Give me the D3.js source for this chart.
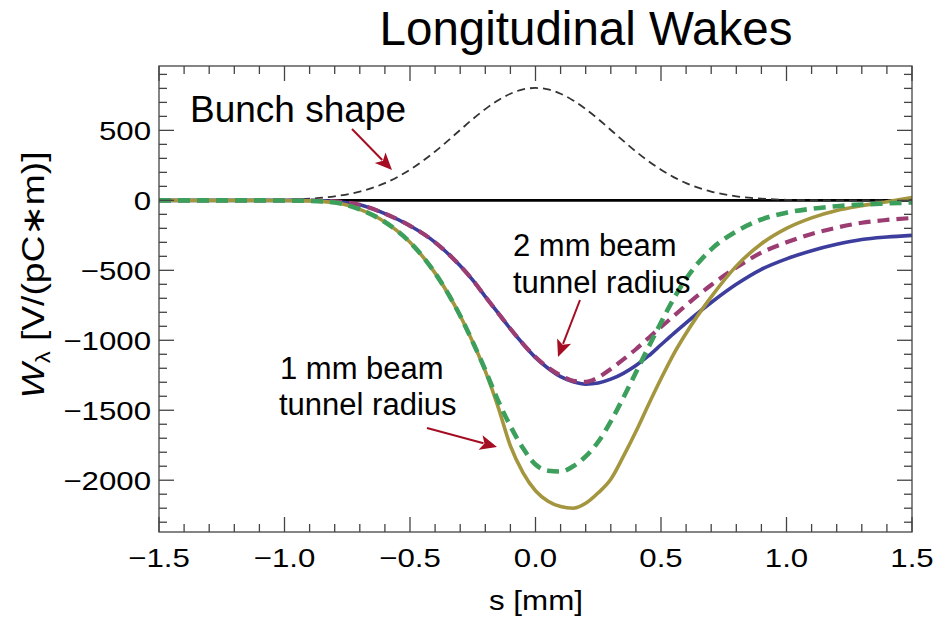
<!DOCTYPE html>
<html>
<head>
<meta charset="utf-8">
<script src="https://cdn.jsdelivr.net/npm/d3@7/dist/d3.min.js"></script>
<style>
  body { margin: 0; background: #fff; }
  svg { display: block; font-family: "Liberation Sans", Arial, Helvetica, sans-serif; }
</style>
</head>
<body>
<svg id="chart" width="941" height="619"></svg>
<script>
// s positions [mm] shared by every curve
const sGrid = [-1.5, -1.2, -1.0, -0.9, -0.8, -0.7, -0.6, -0.5, -0.4, -0.3, -0.25, -0.2, -0.15, -0.1, -0.05,
  0, 0.05, 0.1, 0.15, 0.2, 0.25, 0.3, 0.35, 0.4, 0.45, 0.5, 0.55, 0.6, 0.7, 0.8, 0.9, 1.0, 1.1, 1.2, 1.3, 1.4, 1.5];

// bunch shape (arbitrary scale)
const bunchShape = [0, 0, 4, 12, 29, 63, 123, 219, 349, 503, 581, 652, 714, 762, 793,
  803, 793, 762, 714, 652, 581, 503, 425, 349, 280, 219, 166, 123, 63, 29, 12, 4, 1, 0, 0, 0, 0];

// 2 mm beam tunnel radius
const wake2mmSolid = [0, 0, 0, -1, -8, -32, -95, -182, -300, -468, -570, -688, -803, -918, -1025,
  -1124, -1200, -1260, -1296, -1313, -1305, -1278, -1236, -1180, -1112, -1032, -952, -875, -730, -600, -493, -418, -360, -314, -280, -262, -250];
const wake2mmDashed = [0, 0, 0, -1, -8, -32, -95, -182, -300, -468, -570, -688, -803, -918, -1025,
  -1120, -1195, -1250, -1290, -1297, -1265, -1205, -1137, -1064, -984, -905, -828, -750, -605, -480, -374, -300, -240, -195, -160, -140, -126];

// 1 mm beam tunnel radius
const wake1mmSolid = [0, 0, -1, -4, -16, -65, -155, -300, -520, -825, -1012, -1220, -1470, -1755, -1945,
  -2075, -2150, -2188, -2200, -2165, -2090, -1993, -1830, -1652, -1460, -1275, -1100, -950, -690, -470, -310, -200, -125, -72, -38, -10, 20];
const wake1mmDashed = [0, 0, -1, -4, -16, -65, -155, -300, -520, -825, -1012, -1212, -1428, -1613, -1770,
  -1888, -1932, -1938, -1900, -1830, -1725, -1580, -1410, -1230, -1050, -873, -705, -560, -350, -222, -137, -88, -60, -42, -30, -22, -15];

const xTickValues = [-1.5, -1.0, -0.5, 0.0, 0.5, 1.0, 1.5];
const yTickValues = [500, 0, -500, -1000, -1500, -2000];

const svg = d3.select("#chart");
const plotLeft = 159, plotRight = 912, plotTop = 66, plotBottom = 532;

const x = d3.scaleLinear().domain([-1.5, 1.5]).range([plotLeft, plotRight]);
const y = d3.scaleLinear().domain([-2370, 960]).range([plotBottom, plotTop]);

const fmtMinus = (s) => s.replace("-", "\u2212");

// title
svg.append("text")
  .attr("x", 586).attr("y", 45)
  .attr("text-anchor", "middle")
  .attr("font-size", 47.5)
  .text("Longitudinal Wakes");

// clip for curves
svg.append("clipPath").attr("id", "plotClip")
  .append("rect").attr("x", plotLeft).attr("y", plotTop)
  .attr("width", plotRight - plotLeft).attr("height", plotBottom - plotTop);

const plot = svg.append("g").attr("clip-path", "url(#plotClip)");

const line = (vals) => d3.line()
  .x((d, i) => x(sGrid[i]))
  .y((d) => y(d))
  .curve(d3.curveMonotoneX)(vals);

// zero line
plot.append("line")
  .attr("x1", x(-1.5)).attr("x2", x(1.5))
  .attr("y1", y(0)).attr("y2", y(0))
  .attr("stroke", "#000").attr("stroke-width", 2.6);

// bunch shape
plot.append("path")
  .attr("d", line(bunchShape))
  .attr("fill", "none").attr("stroke", "#333")
  .attr("stroke-width", 1.8).attr("stroke-dasharray", "8,5");

const series = [
  { vals: wake2mmSolid, color: "#3d3d9e", width: 3.6, dash: null },
  { vals: wake2mmDashed, color: "#9b3d72", width: 4.2, dash: "12,7" },
  { vals: wake1mmSolid, color: "#a3963f", width: 3.6, dash: null },
  { vals: wake1mmDashed, color: "#3d9f5c", width: 4.6, dash: "12,7" },
];

series.forEach((sr) => {
  plot.append("path")
    .attr("d", line(sr.vals))
    .attr("fill", "none")
    .attr("stroke", sr.color)
    .attr("stroke-width", sr.width)
    .attr("stroke-dasharray", sr.dash);
});

// frame with ticks on all four sides
const frame = svg.append("g").attr("stroke", "#444").attr("stroke-width", 1.3);
frame.append("rect")
  .attr("x", plotLeft).attr("y", plotTop)
  .attr("width", plotRight - plotLeft).attr("height", plotBottom - plotTop)
  .attr("fill", "none");

const xTicksAll = d3.range(-15, 16).map((k) => k / 10);
xTicksAll.forEach((v) => {
  const major = Math.abs(v * 2 - Math.round(v * 2)) < 1e-6;
  const len = major ? 15 : 8;
  const px = x(v);
  frame.append("line").attr("x1", px).attr("x2", px).attr("y1", plotBottom).attr("y2", plotBottom - len);
  frame.append("line").attr("x1", px).attr("x2", px).attr("y1", plotTop).attr("y2", plotTop + len);
});

const yTicksAll = d3.range(-23, 10).map((k) => k * 100);
yTicksAll.forEach((v) => {
  const major = v % 500 === 0;
  const len = major ? 15 : 8;
  const py = y(v);
  frame.append("line").attr("x1", plotLeft).attr("x2", plotLeft + len).attr("y1", py).attr("y2", py);
  frame.append("line").attr("x1", plotRight).attr("x2", plotRight - len).attr("y1", py).attr("y2", py);
});

// tick labels (plot text is horizontally stretched in the source)
const stretch = 1.2;
svg.append("g").selectAll("text").data(xTickValues).join("text")
  .attr("transform", (d) => `translate(${x(d)},567) scale(${stretch},1)`)
  .attr("text-anchor", "middle")
  .attr("font-size", 26)
  .text((d) => fmtMinus(d.toFixed(1)));

svg.append("g").selectAll("text").data(yTickValues).join("text")
  .attr("transform", (d) => `translate(151,${y(d)}) scale(${stretch},1)`)
  .attr("dy", "0.36em")
  .attr("text-anchor", "end")
  .attr("font-size", 26)
  .text((d) => fmtMinus(String(d)));

// axis labels
svg.append("text")
  .attr("transform", "translate(536,610) scale(1.12,1)")
  .attr("text-anchor", "middle")
  .attr("font-size", 28)
  .text("s [mm]");

const yl = svg.append("text")
  .attr("transform", "translate(44,275) rotate(-90) scale(1.2,1)")
  .attr("text-anchor", "middle")
  .attr("font-size", 31);
yl.append("tspan").attr("font-style", "italic").text("W");
yl.append("tspan").attr("font-size", 20).attr("dy", 6).text("\u03bb");
yl.append("tspan").attr("dy", -6).text(" [V/(pC\u2217m)]");

// annotations
const textG = svg.append("g").attr("fill", "#000");
textG.append("text").attr("x", 190).attr("y", 122).attr("font-size", 37).text("Bunch shape");
textG.append("text").attr("x", 513).attr("y", 256).attr("font-size", 31).text("2 mm beam");
textG.append("text").attr("x", 513).attr("y", 293).attr("font-size", 31).text("tunnel radius");
textG.append("text").attr("x", 280).attr("y", 379).attr("font-size", 31).text("1 mm beam");
textG.append("text").attr("x", 279).attr("y", 415).attr("font-size", 31).text("tunnel radius");

const arrows = [
  [[352, 129], [392, 170]],
  [[580, 300], [558, 357]],
  [[427, 428], [497, 447]],
];
const arrowColor = "#a50d22";
arrows.forEach(([a, b]) => {
  const dx = b[0] - a[0], dy = b[1] - a[1];
  const L = Math.hypot(dx, dy);
  const ux = dx / L, uy = dy / L;
  const head = 17, half = 7.5;
  const bx = b[0] - ux * head, by = b[1] - uy * head;
  svg.append("line")
    .attr("x1", a[0]).attr("y1", a[1]).attr("x2", bx + ux * 3).attr("y2", by + uy * 3)
    .attr("stroke", arrowColor).attr("stroke-width", 2);
  const p = d3.path();
  p.moveTo(b[0], b[1]);
  p.lineTo(bx - uy * half, by + ux * half);
  p.lineTo(bx + ux * 4, by + uy * 4);
  p.lineTo(bx + uy * half, by - ux * half);
  p.closePath();
  svg.append("path").attr("d", p.toString()).attr("fill", arrowColor);
});
</script>
</body>
</html>
